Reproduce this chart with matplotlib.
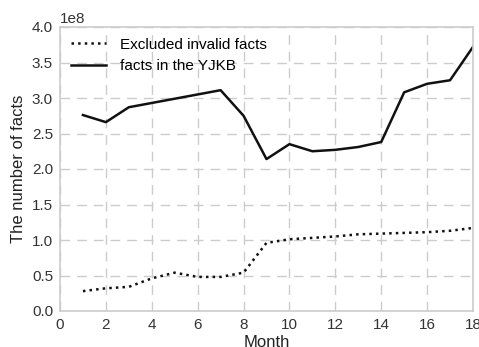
import numpy as np
import matplotlib
matplotlib.use('Agg')
import matplotlib.pyplot as plt

months = list(range(1, 19))
excluded = [0.28, 0.32, 0.34, 0.46, 0.54, 0.48, 0.48, 0.54, 0.96, 1.01,
            1.03, 1.05, 1.08, 1.09, 1.10, 1.11, 1.13, 1.17]
facts = [2.76, 2.66, 2.87, 2.93, 2.99, 3.05, 3.11, 2.75, 2.14, 2.35,
         2.25, 2.27, 2.31, 2.38, 3.08, 3.20, 3.25, 3.72]

plt.rcParams['font.family'] = ['Liberation Sans', 'DejaVu Sans']

fig = plt.figure(figsize=(4.79, 3.47), dpi=100)
ax = fig.add_axes([60 / 479, 1 - 311 / 347, 413 / 479, 284 / 347])

ax.plot(months, np.array(excluded) * 1e8, linestyle=':', color='#111111',
        linewidth=1.8, label='Excluded invalid facts')
ax.plot(months, np.array(facts) * 1e8, linestyle='-', color='#111111',
        linewidth=1.8, label='facts in the YJKB')

ax.set_xlim(0, 18)
ax.set_ylim(0, 4e8)
ax.set_xticks(range(0, 19, 2))
ax.set_yticks(np.arange(0, 4.01e8, 0.5e8))
ax.grid(True, color='#cccccc', linestyle=(0, (7, 5)), linewidth=1)
ax.set_axisbelow(True)
for s in ax.spines.values():
    s.set_color('#cccccc')
    s.set_linewidth(1.2)
ax.tick_params(length=0, labelsize=11, colors='#333333', pad=5)
ax.yaxis.get_offset_text().set_fontsize(11)
ax.yaxis.get_offset_text().set_color('#333333')
ax.set_xlabel('Month', fontsize=12, color='#222222', labelpad=2)
ax.set_ylabel('The number of facts', fontsize=12, color='#222222')
ax.legend(loc='upper left', frameon=False, fontsize=11, handlelength=2.3,
          borderaxespad=0.3, handletextpad=0.9)

fig.savefig('out.png', dpi=100)
